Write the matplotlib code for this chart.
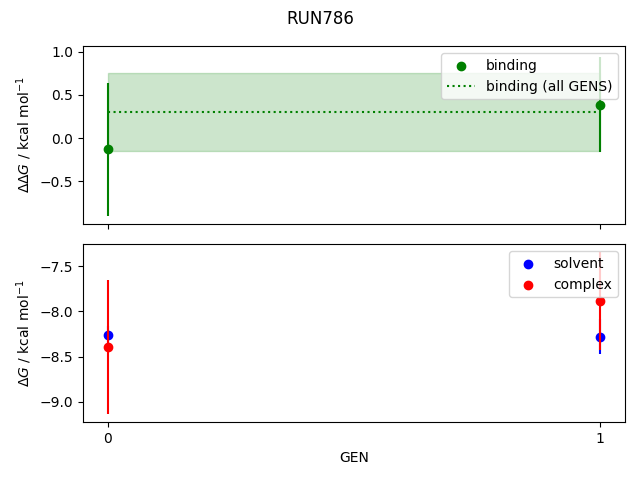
import numpy as np
import matplotlib
matplotlib.use('Agg')
import matplotlib.pyplot as plt

gens = [0, 1]

binding = [-0.13, 0.389]
binding_err = [0.765, 0.55]
binding_all = 0.299
binding_all_err = 0.452

solvent = [-8.257, -8.28]
solvent_err = [0.1, 0.195]
complex_ = [-8.395, -7.886]
complex_err = [0.737, 0.539]

fig, (ax, ax2) = plt.subplots(2, 1, sharex=True, figsize=(6.4, 4.8))
fig.suptitle('RUN786')

ax.errorbar(gens, binding, yerr=binding_err, color='green', ls='none')
ax.scatter(gens, binding, color='green', label='binding')
ax.plot(gens, [binding_all] * len(gens), color='green', ls=':', label='binding (all GENS)')
ax.fill_between(gens, binding_all - binding_all_err, binding_all + binding_all_err,
                color='green', alpha=0.2)
ax.set_ylabel(r'$\Delta\Delta G$ / kcal mol$^{-1}$')
ax.set_ylim(-0.99, 1.066)
ax.legend(loc='upper right')

ax2.errorbar(gens, solvent, yerr=solvent_err, color='blue', ls='none')
ax2.scatter(gens, solvent, color='blue', label='solvent')
ax2.errorbar(gens, complex_, yerr=complex_err, color='red', ls='none')
ax2.scatter(gens, complex_, color='red', label='complex')
ax2.set_ylabel(r'$\Delta G$ / kcal mol$^{-1}$')
ax2.set_xlabel('GEN')
ax2.set_xticks(gens)
ax2.legend(loc='upper right')

fig.subplots_adjust(left=0.130, right=0.976, top=0.904, bottom=0.121, hspace=0.115)
plt.savefig('out.png', dpi=100)
